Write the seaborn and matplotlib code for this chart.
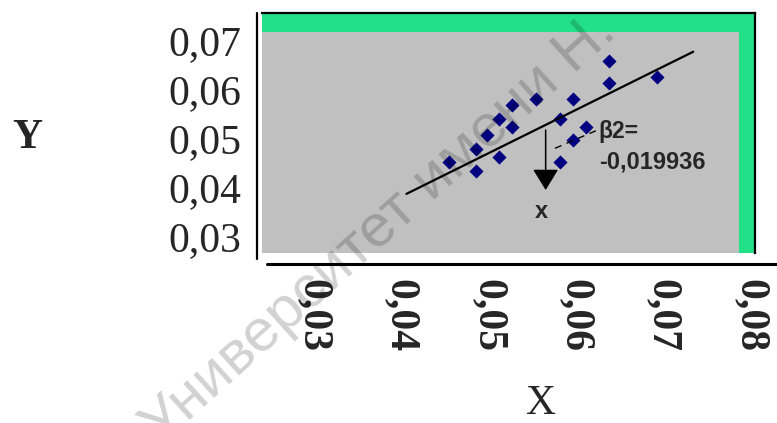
import matplotlib
matplotlib.use("Agg")
import matplotlib.pyplot as plt
from matplotlib.lines import Line2D
from matplotlib.patches import Rectangle
import seaborn as sns
import pandas as pd

# Observations
x_vals = [0.0456, 0.0487, 0.0487, 0.0499, 0.0513, 0.0513, 0.0528, 0.0528, 0.0555,
          0.0583, 0.0598, 0.0583, 0.0598, 0.0612, 0.0639, 0.0639, 0.0694]
y_vals = [0.0450, 0.0433, 0.0478, 0.0506, 0.0539, 0.0462, 0.0567, 0.0522, 0.0580,
          0.0539, 0.0580, 0.0450, 0.0495, 0.0522, 0.0658, 0.0612, 0.0625]

# Fitted line end points
trend_x = [0.0407, 0.0735]
trend_y = [0.0386, 0.0676]

# Axis ticks
x_ticks = [0.03, 0.04, 0.05, 0.06, 0.07, 0.08]
x_tick_labels = ["0,03", "0,04", "0,05", "0,06", "0,07", "0,08"]
y_ticks = [0.03, 0.04, 0.05, 0.06, 0.07]
y_tick_labels = ["0,03", "0,04", "0,05", "0,06", "0,07"]

beta2 = -0.019936

sns.set_style("white")
plt.rcParams["font.family"] = ["Liberation Sans", "DejaVu Sans"]

W, H = 777, 423
fig = plt.figure(figsize=(W / 100, H / 100), dpi=100)
fig.patch.set_facecolor("white")

ax = fig.add_axes([262 / W, 1 - 253 / H, 493 / W, 240 / H])
ax.set_xlim(0.02417, 0.08057)
ax.set_ylim(0.02653, 0.07551)
ax.set_facecolor("#C0C0C0")

# frame: green band on top and right, black edge on the same sides
green = "#22E088"
ax.add_patch(Rectangle((0, 0.9208), 1, 0.0792, transform=ax.transAxes,
                       facecolor=green, edgecolor="none", zorder=0))
ax.add_patch(Rectangle((0.9675, 0), 0.0325, 1, transform=ax.transAxes,
                       facecolor=green, edgecolor="none", zorder=0))
for side in ("left", "bottom"):
    ax.spines[side].set_visible(False)
for side in ("top", "right"):
    ax.spines[side].set_visible(True)
    ax.spines[side].set_color("black")
    ax.spines[side].set_linewidth(1.6)

df = pd.DataFrame({"x": x_vals, "y": y_vals})
sns.scatterplot(data=df, x="x", y="y", marker="D", s=52, color="#000080",
                linewidth=0, ax=ax, zorder=3)
sns.lineplot(x=trend_x, y=trend_y, color="black", linewidth=1.6, ax=ax, zorder=4)

# leader to the coefficient label
ax.plot([0.05769, 0.06276], [0.04790, 0.05178], color="black", linewidth=1.0,
        dashes=(5, 4), zorder=4)
ax.text(0.06270, 0.05129, "β2=", fontsize=16.5, fontweight="bold",
        ha="left", va="center", zorder=5)
ax.text(0.06270, 0.04516, f"{beta2:.6f}".replace(".", ","), fontsize=17,
        fontweight="bold", ha="left", va="center", zorder=5)

# downward arrow with its label
ax.annotate("", xy=(0.05662, 0.03939), xytext=(0.05662, 0.05163),
            arrowprops=dict(arrowstyle="-|>,head_length=0.65,head_width=0.4",
                            mutation_scale=20, color="black", lw=1.1,
                            shrinkA=0, shrinkB=0), zorder=5)
ax.text(0.05617, 0.03496, "x", fontsize=17, fontweight="bold",
        ha="center", va="center", zorder=5)

ax.set_xticks(x_ticks)
ax.set_xticklabels(x_tick_labels, rotation=-90, fontweight="bold",
                   fontfamily="Liberation Serif", fontsize=30)
ax.set_yticks(y_ticks)
ax.set_yticklabels(y_tick_labels, fontfamily="Liberation Serif", fontsize=30)
ax.tick_params(axis="x", length=0, pad=19)
ax.tick_params(axis="y", length=0, pad=15)
ax.set_xlabel("")
ax.set_ylabel("")
ax.grid(False)

# detached axis rules
fig.add_artist(Line2D([257 / W, 257 / W], [1 - 13 / H, 1 - 259 / H],
                      color="black", linewidth=1.6))
fig.add_artist(Line2D([267 / W, 1.0], [1 - 264 / H, 1 - 264 / H],
                      color="black", linewidth=2.2))

fig.text(27 / W, 1 - 138 / H, "Y", fontfamily="Liberation Serif",
         fontweight="bold", fontsize=30, ha="center", va="center")
fig.text(540 / W, 1 - 404 / H, "X", fontfamily="Liberation Serif",
         fontsize=30, ha="center", va="center")

fig.text(618 / W, 1 - 34 / H, "Университет имени Н.", rotation=42,
         rotation_mode="anchor", ha="right", va="baseline", fontsize=43,
         fontfamily="Liberation Sans", color="black", alpha=0.18, zorder=10)

fig.savefig("out.png", dpi=100)
